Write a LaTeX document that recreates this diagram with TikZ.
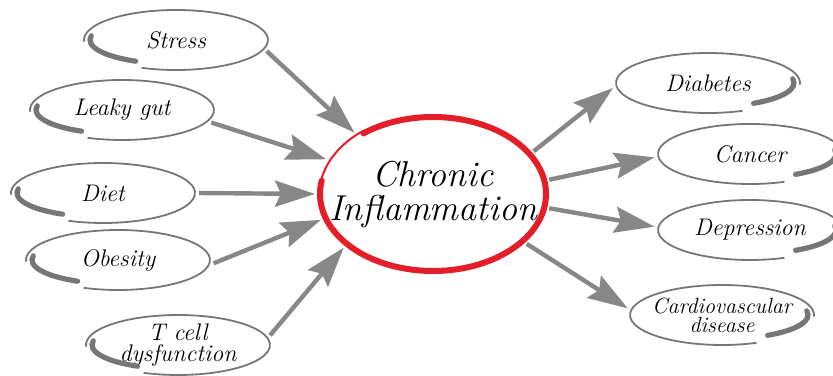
\documentclass[tikz,border=0pt]{standalone}
\usetikzlibrary{shapes.geometric,arrows.meta}
\definecolor{rimgray}{RGB}{118,118,118}
\definecolor{arrowgray}{RGB}{135,135,135}
\definecolor{ringred}{RGB}{228,30,40}
\tikzset{
  cause/.style={ellipse, minimum width=92pt, minimum height=30pt, inner sep=0pt, outer sep=2pt,
    font=\fontsize{12}{10.5}\selectfont\itshape, align=center},
  hubnode/.style={ellipse, minimum width=113pt, minimum height=77pt, inner xsep=-14pt, inner ysep=0pt, outer sep=2.5pt,
    font=\fontsize{18}{17}\selectfont\itshape, align=center},
  rim/.style={draw=rimgray, line width=0.9pt},
  swoosh/.style={draw=rimgray, line width=2.6pt, line cap=round},
  feed/.style={draw=arrowgray, line width=2.2pt, -{Stealth[length=20pt,width=13pt,inset=3pt]}},
  ring/.style={draw=ringred, line width=3pt, line cap=round},
  ringthin/.style={draw=ringred, line width=1pt, line cap=round},
}
\begin{document}
\begin{tikzpicture}[x=0.5pt,y=0.5pt]
    \useasboundingbox (0,0) rectangle (833,375);

    % Central node
    \node[hubnode] (hub) at (433,181) {Chronic\\Inflammation};
    \draw[ring] (hub.center) ++(128:56.5pt and 38.5pt) arc[start angle=128, end angle=-190, x radius=56.5pt, y radius=38.5pt];
    \draw[ringthin] (hub.center) ++(-188:56.8pt and 39pt) arc[start angle=-188, end angle=-232, x radius=57.5pt, y radius=40.5pt];

    % Causes (left)
    \node[cause] (stress) at (176,335) {Stress};
    \node[cause] (leaky) at (122,265) {Leaky gut};
    \node[cause] (diet) at (103,182) {Diet};
    \node[cause] (obesity) at (118,115) {Obesity};
    \node[cause] (tcell) at (178,30) {T cell\\dysfunction};
    \foreach \n in {stress,leaky,diet,obesity,tcell} {
        \draw[rim] (\n.center) ++(183:46pt and 15pt) arc[start angle=183, end angle=-112, x radius=46pt, y radius=15pt];
        \draw[swoosh] (\n.center) ++(170:43pt and 12pt) arc[start angle=170, end angle=242, x radius=43pt, y radius=12pt];
    }

    % Consequences (right)
    \node[cause] (diabetes) at (708,292) {Diabetes};
    \node[cause] (cancer) at (750,221) {Cancer};
    \node[cause] (depression) at (750,145) {Depression};
    \node[cause, inner xsep=-5pt, font=\fontsize{11}{9.5}\selectfont\itshape] (cardio) at (722,60) {Cardiovascular\\disease};
    \foreach \n in {diabetes,cancer,depression,cardio} {
        \draw[rim] (\n.center) ++(-3:46pt and 15pt) arc[start angle=-3, end angle=292, x radius=46pt, y radius=15pt];
        \draw[swoosh] (\n.center) ++(10:43pt and 12pt) arc[start angle=10, end angle=-58, x radius=43pt, y radius=12pt];
    }

    % Arrows in
    \draw[feed] (stress.-7) -- (hub.142);
    \draw[feed] (leaky.-8) -- (hub.162);
    \draw[feed] (diet.east) -- (hub.180);
    \draw[feed] (obesity.-2) -- (hub.193);
    \draw[feed] (tcell.6) -- (hub.211);

    % Arrows out
    \draw[feed] (hub.23) -- (diabetes.183);
    \draw[feed] (hub.7) -- (cancer.182);
    \draw[feed] (hub.-7) -- (depression.178);
    \draw[feed] (hub.-28) -- (cardio.176);
\end{tikzpicture}
\end{document}
